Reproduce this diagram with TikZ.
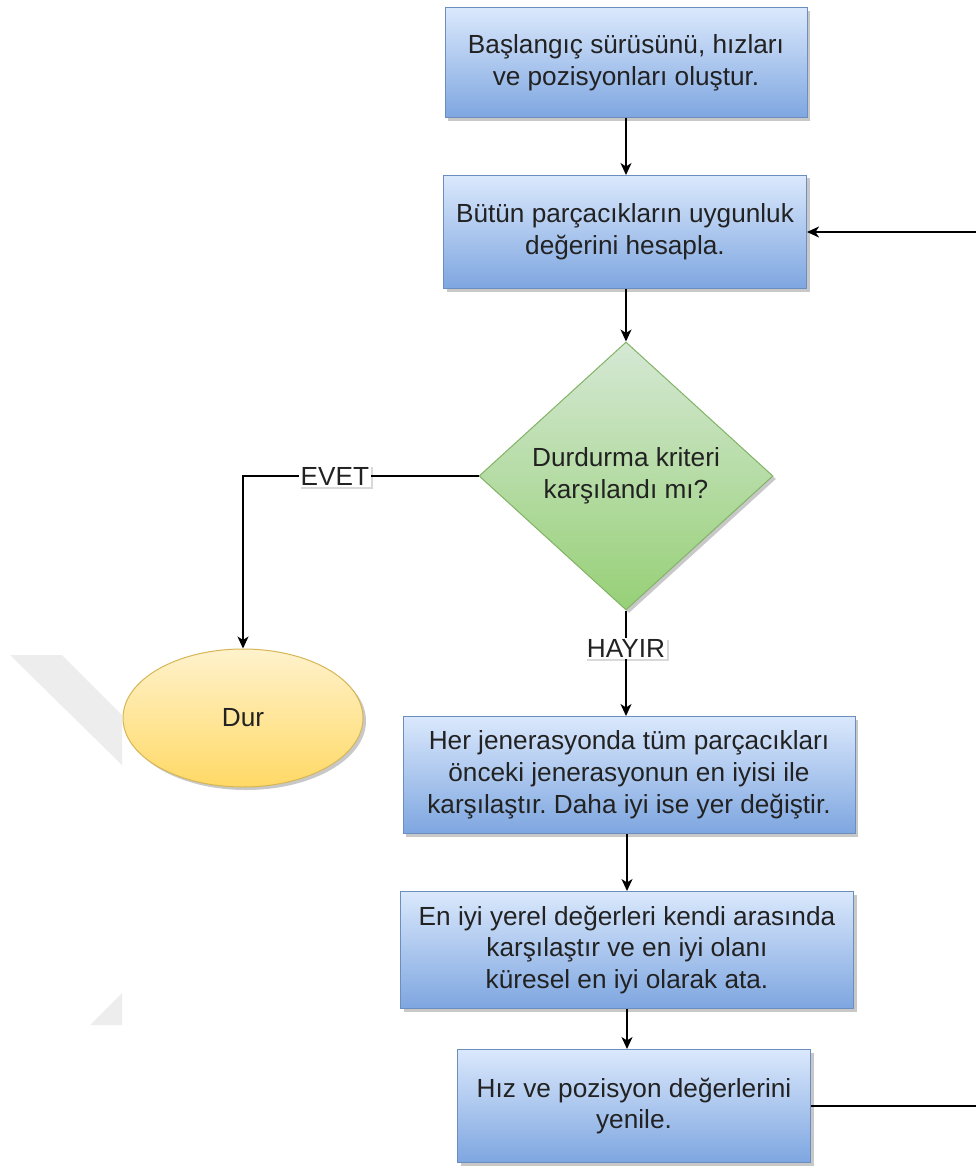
\documentclass[tikz,border=0pt]{standalone}
\usepackage{fontspec}
\setmainfont{Liberation Sans}
\usetikzlibrary{shapes.geometric,shadows,arrows.meta}
\frenchspacing

\definecolor{procline}{HTML}{6C8EBF}
\definecolor{proctop}{HTML}{DAE8FC}
\definecolor{procbot}{HTML}{7EA6E0}
\definecolor{decline}{HTML}{82B366}
\definecolor{dectop}{HTML}{D5E8D4}
\definecolor{decbot}{HTML}{97D077}
\definecolor{endline}{HTML}{D6B656}
\definecolor{endtop}{HTML}{FFF2CC}
\definecolor{endbot}{HTML}{FFD966}
\definecolor{txt}{HTML}{222222}
\definecolor{bgmarkgray}{HTML}{EDEDED}

\begin{document}
\begin{tikzpicture}[x=1pt,y=-1pt,
  basefont/.style={font=\fontsize{26.2}{31.8}\selectfont, text=txt},
  shade/.style={drop shadow={shadow xshift=3pt, shadow yshift=-3pt, opacity=0.3, fill=black!70}},
  proc/.style={rectangle, draw=procline, line width=1pt, top color=proctop, bottom color=procbot,
    align=center, inner sep=0pt, basefont, shade},
  decision/.style={diamond, draw=decline, line width=1pt, top color=dectop, bottom color=decbot,
    align=center, inner sep=0pt, aspect=1.1, basefont, shade},
  terminal/.style={ellipse, draw=endline, line width=1pt, top color=endtop, bottom color=endbot,
    inner sep=0pt, basefont, shade},
  lbl/.style={fill=white, inner sep=1.5pt, basefont,
    drop shadow={shadow xshift=2pt, shadow yshift=-2pt, opacity=0.15, fill=black}},
  arr/.style={draw=black, line width=1.6pt, -{Stealth[length=12pt, width=11pt, inset=3.5pt]}}
]
\clip (0,0) rectangle (976,1169);
\fill[white] (0,0) rectangle (976,1169);

% faint background marks on the left margin
\fill[bgmarkgray] (10,655) -- (62,655) -- (122,715) -- (122,765) -- cycle;
\fill[bgmarkgray] (90,1025) -- (122,993) -- (122,1025) -- cycle;

% process steps
\node[proc, minimum width=362, minimum height=110] (init) at (626,63)
  {Başlangıç sürüsünü, hızları\\ ve pozisyonları oluştur.};
\node[proc, minimum width=363, minimum height=113] (fit) at (625,232)
  {Bütün parçacıkların uygunluk\\değerini hesapla.};
\node[decision, minimum width=294, minimum height=268] (stopq) at (626,476)
  {Durdurma kriteri\\karşılandı mı?};
\node[terminal, minimum width=240, minimum height=138] (stop) at (243,718) {Dur};
\node[proc, minimum width=452, minimum height=117] (pbest) at (629,775)
  {Her jenerasyonda tüm parçacıkları\\önceki jenerasyonun en iyisi ile\\karşılaştır. Daha iyi ise yer değiştir.};
\node[proc, minimum width=453, minimum height=117] (gbest) at (627,950)
  {En iyi yerel değerleri kendi arasında\\karşılaştır ve en iyi olanı\\küresel en iyi olarak ata.};
\node[proc, minimum width=353, minimum height=113] (upd) at (634,1106)
  {Hız ve pozisyon değerlerini\\yenile.};

% connectors
\draw[arr] (init.south) -- (init.south |- fit.north);
\draw[arr] (stopq.north |- fit.south) -- (stopq.north);
\draw[arr] (stopq.west) -| (stop.north) node[lbl, pos=0.305] {EVET};
\draw[arr] (stopq.south) -- (stopq.south |- pbest.north) node[lbl, pos=0.36] {HAYIR};
\draw[arr] (pbest.south -| gbest.north) -- (gbest.north);
\draw[arr] (gbest.south) -- (gbest.south |- upd.north);
\coordinate (back) at (1000,1106);
\draw[arr] (upd.east) -- (back) |- (fit.east);
\end{tikzpicture}
\end{document}
